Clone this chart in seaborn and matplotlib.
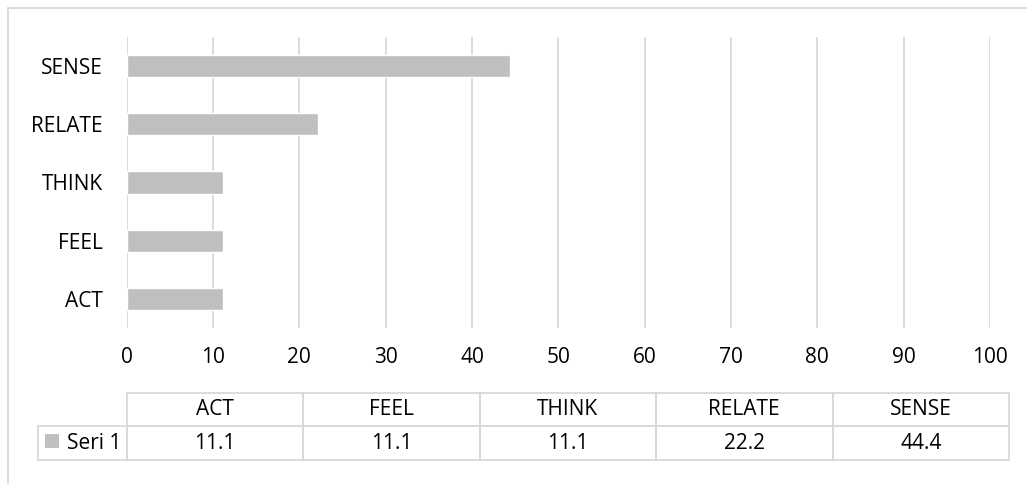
import matplotlib
matplotlib.use("Agg")
import matplotlib.pyplot as plt
from matplotlib.patches import Rectangle
from matplotlib.lines import Line2D
import seaborn as sns

# Experiential marketing modules and their shares (%)
categories = ["ACT", "FEEL", "THINK", "RELATE", "SENSE"]
values = [11.1, 11.1, 11.1, 22.2, 44.4]
series_name = "Seri 1"
x_ticks = [0, 10, 20, 30, 40, 50, 60, 70, 80, 90, 100]

BAR = "#BFBFBF"
GRID = "#D9D9D9"
TEXT = "#000000"
FS = 15.0

sns.set_theme(style="white")
plt.rcParams["font.family"] = ["Open Sans", "DejaVu Sans"]

W, H = 1027, 484
fig = plt.figure(figsize=(W / 100, H / 100), dpi=100)
fig.patch.set_facecolor("white")

ax_left, ax_right = 126.7, 990.0
ax_top, ax_bottom = 37.0, 328.0
ax = fig.add_axes([ax_left / W, 1 - ax_bottom / H,
                   (ax_right - ax_left) / W, (ax_bottom - ax_top) / H])

order = categories[::-1]
sns.barplot(x=values, y=categories, order=order, orient="h", color=BAR,
            saturation=1, width=0.383, ax=ax, zorder=3)

ax.set_xlim(0, 100)
ax.set_xticks(x_ticks)
ax.set_xticklabels([str(t) for t in x_ticks])
ax.grid(axis="x", color=GRID, linewidth=1.3, zorder=0)
ax.grid(axis="y", visible=False)
ax.set_axisbelow(True)
for s in ax.spines.values():
    s.set_visible(False)
ax.tick_params(axis="both", length=0, labelsize=FS, colors=TEXT)
ax.tick_params(axis="y", pad=17)
ax.tick_params(axis="x", pad=14)
ax.set_xlabel("")
ax.set_ylabel("")

# Data table under the axis
span = ax_right - ax_left
tbl_left, tbl_right = 37.7, 1009.0
tbl_top, tbl_bot = 392.7, 460.0
axh = ax_bottom - ax_top
bbox = [(tbl_left - ax_left) / span,
        (ax_bottom - tbl_bot) / axh,
        (tbl_right - tbl_left) / span,
        (tbl_bot - tbl_top) / axh]
label_w = ax_left - tbl_left
col_w = (tbl_right - ax_left) / len(categories)
table = ax.table(cellText=[[series_name] + [f"{v:.1f}" for v in values]],
                 colLabels=[""] + categories,
                 colWidths=[label_w] + [col_w] * len(categories),
                 cellLoc="center", bbox=bbox)
table.auto_set_font_size(False)
table.set_fontsize(FS)
for (r, c), cell in table.get_celld().items():
    cell.set_edgecolor(GRID)
    cell.set_linewidth(1.3)
    cell.set_facecolor("none")
    cell.get_text().set_color(TEXT)
table[(0, 0)].visible_edges = "open"
table[(1, 0)].get_text().set_horizontalalignment("right")
table[(1, 0)]._loc = "right"
table[(1, 0)].PAD = 0.06

# Series key square inside the row label cell
fig.add_artist(Rectangle((44.5 / W, 1 - 448 / H), 14 / W, 14 / H,
                         transform=fig.transFigure, facecolor=BAR,
                         edgecolor="none"))

# Chart area frame
fig.add_artist(Line2D([8 / W, 1], [1 - 8 / H, 1 - 8 / H], color=GRID,
                      linewidth=1.3, transform=fig.transFigure))
fig.add_artist(Line2D([8 / W, 8 / W], [0, 1 - 8 / H], color=GRID,
                      linewidth=1.3, transform=fig.transFigure))

fig.savefig("out.png", dpi=100)
